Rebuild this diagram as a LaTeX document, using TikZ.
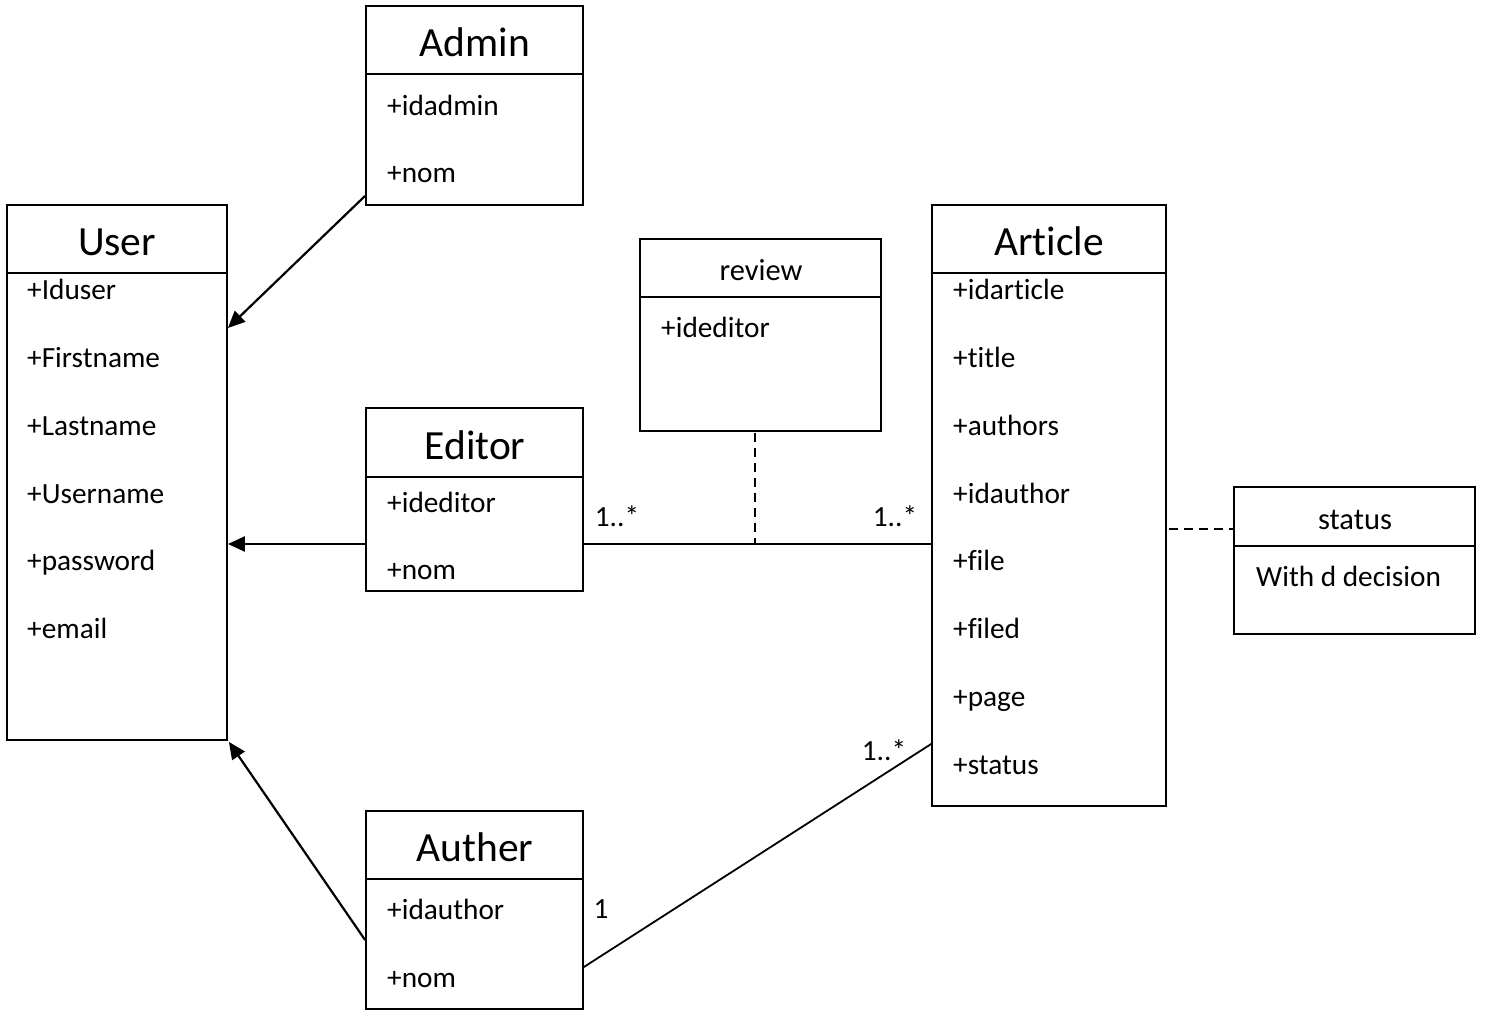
\documentclass[tikz,border=0pt]{standalone}
\usepackage{fontspec}
\setmainfont[Ligatures={NoCommon}]{Carlito}
\usetikzlibrary{arrows.meta}
\tikzset{
  box/.style={draw, line width=1.8pt, inner sep=0pt, fill=white},
  ttl/.style={inner sep=0pt, yshift=-9.5pt, text height=0.65em, text depth=0pt, font=\fontsize{41.5}{48}\selectfont},
  sttl/.style={inner sep=0pt, yshift=-7pt, text height=0.65em, text depth=0pt, font=\fontsize{30.5}{36}\selectfont},
  attr/.style={anchor=west, inner sep=0pt, yshift=-7pt, text height=0.65em, text depth=0pt, font=\fontsize{29.3}{35}\selectfont},
  divl/.style={line width=1.8pt},
  gen/.style={line width=2.2pt, -{Triangle[length=17pt,width=15pt]}},
  assoc/.style={line width=1.8pt},
  dashl/.style={line width=1.6pt, dash pattern=on 9pt off 6pt},
}
\begin{document}
\begin{tikzpicture}[x=1pt,y=-1pt]
\useasboundingbox (0,0) rectangle (1486,1011);
% Admin
\node[box, minimum width=217pt, minimum height=199pt] (admin) at (474.5,105.5) {};
\draw[divl] (366,74) -- (583,74);
\node[ttl] (admint) at (475,44) {Admin};
\node[attr] (admina1) at (387,105) {+idadmin};
\node[attr] (admina2) at (387,172) {+nom};
% User
\node[box, minimum width=220pt, minimum height=535pt] (user) at (117,472.5) {};
\draw[divl] (7,273) -- (227,273);
\node[ttl] (usert) at (117,243) {User};
\node[attr] (usera1) at (27,289) {+Iduser};
\node[attr] (usera2) at (27,357) {+Firstname};
\node[attr] (usera3) at (27,425) {+Lastname};
\node[attr] (usera4) at (27,493) {+Username};
\node[attr] (usera5) at (27,560) {+password};
\node[attr] (usera6) at (27,628) {+email};
% Editor
\node[box, minimum width=217pt, minimum height=183pt] (editor) at (474.5,499.5) {};
\draw[divl] (366,477) -- (583,477);
\node[ttl] (editort) at (475,447) {Editor};
\node[attr] (editora1) at (387,502) {+ideditor};
\node[attr] (editora2) at (387,569) {+nom};
% Auther
\node[box, minimum width=217pt, minimum height=198pt] (auther) at (474.5,910) {};
\draw[divl] (366,879) -- (583,879);
\node[ttl] (authert) at (475,849) {Auther};
\node[attr] (authera1) at (387,909) {+idauthor};
\node[attr] (authera2) at (387,977) {+nom};
% review
\node[box, minimum width=241pt, minimum height=192pt] (review) at (760.5,335) {};
\draw[divl] (640,297) -- (881,297);
\node[sttl] (reviewt) at (761,270) {review};
\node[attr] (reviewa1) at (661,327) {+ideditor};
% Article
\node[box, minimum width=234pt, minimum height=601pt] (article) at (1049,505.5) {};
\draw[divl] (932,273) -- (1166,273);
\node[ttl] (articlet) at (1049,243) {Article};
\node[attr] (articlea1) at (953,289) {+idarticle};
\node[attr] (articlea2) at (953,357) {+title};
\node[attr] (articlea3) at (953,425) {+authors};
\node[attr] (articlea4) at (953,493) {+idauthor};
\node[attr] (articlea5) at (953,560) {+file};
\node[attr] (articlea6) at (953,628) {+filed};
\node[attr] (articlea7) at (953,696) {+page};
\node[attr] (articlea8) at (953,764) {+status};
% status
\node[box, minimum width=241pt, minimum height=147pt] (status) at (1354.5,560.5) {};
\draw[divl] (1234,546) -- (1475,546);
\node[sttl] (statust) at (1355,519) {status};
\node[attr] (statusa1) at (1256,576) {With d decision};
% generalizations
\draw[gen] ([yshift=10pt]admin.south west) -- ([yshift=144.5pt]user.east);
\draw[gen] ([yshift=-44.5pt]editor.west) -- ([yshift=-71.5pt]user.east);
\draw[gen] ([yshift=-30pt]auther.west) -- ([xshift=1pt,yshift=-1pt]user.south east);
% associations
\draw[assoc] ([yshift=-44.5pt]editor.east) coordinate (ea) -- (ea -| article.west);
\draw[dashl] ([xshift=-5.5pt,yshift=-1pt]review.south) coordinate (rs) -- (rs |- ea);
\draw[assoc] ([yshift=-57pt]auther.east) -- ([yshift=-238.5pt]article.west);
\draw[dashl] ([xshift=2pt,yshift=-23.5pt]article.east) -- ([yshift=31.5pt]status.west);
% multiplicities
\node[attr, anchor=center] (m1) at (617,516) {1..*};
\node[attr, anchor=center] (m2) at (895,516) {1..*};
\node[attr, anchor=center] (m3) at (884,750) {1..*};
\node[attr, anchor=center] (m4) at (601,908) {1};
\end{tikzpicture}
\end{document}
